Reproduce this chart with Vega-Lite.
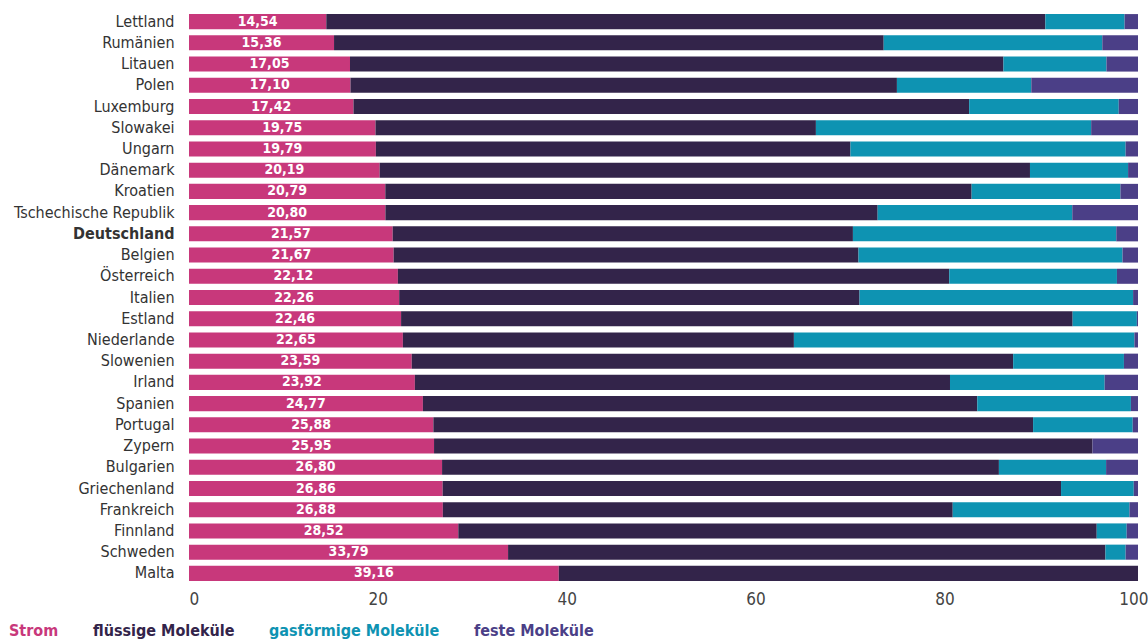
{
  "$schema": "https://vega.github.io/schema/vega-lite/v6.json",
  "width": 949,
  "height": 573,
  "autosize": {"type": "none"},
  "padding": {"left": 189, "top": 11, "right": 10, "bottom": 55},
  "background": "#ffffff",
  "config": {
    "locale": {"number": {"decimal": ",", "thousands": ".", "grouping": [3], "currency": ["", " €"]}},
    "view": {"stroke": null},
    "font": "'DejaVu Sans Condensed', Roboto, sans-serif"
  },
  "datasets": {
    "typen": [
      {"typ": "Strom", "rang": 1},
      {"typ": "flüssige Moleküle", "rang": 2},
      {"typ": "gasförmige Moleküle", "rang": 3},
      {"typ": "feste Moleküle", "rang": 4}
    ]
  },
  "data": {
    "values": [
      {"land": "Lettland", "Strom": 14.54, "flüssige Moleküle": 76.15, "gasförmige Moleküle": 8.39, "feste Moleküle": 1.42},
      {"land": "Rumänien", "Strom": 15.36, "flüssige Moleküle": 58.21, "gasförmige Moleküle": 23.15, "feste Moleküle": 3.78},
      {"land": "Litauen", "Strom": 17.05, "flüssige Moleküle": 69.20, "gasförmige Moleküle": 10.91, "feste Moleküle": 3.34},
      {"land": "Polen", "Strom": 17.10, "flüssige Moleküle": 57.87, "gasförmige Moleküle": 14.23, "feste Moleküle": 11.30},
      {"land": "Luxemburg", "Strom": 17.42, "flüssige Moleküle": 65.20, "gasförmige Moleküle": 15.84, "feste Moleküle": 2.04},
      {"land": "Slowakei", "Strom": 19.75, "flüssige Moleküle": 46.64, "gasförmige Moleküle": 29.15, "feste Moleküle": 4.96},
      {"land": "Ungarn", "Strom": 19.79, "flüssige Moleküle": 50.26, "gasförmige Moleküle": 29.14, "feste Moleküle": 1.31},
      {"land": "Dänemark", "Strom": 20.19, "flüssige Moleküle": 68.87, "gasförmige Moleküle": 10.39, "feste Moleküle": 1.05},
      {"land": "Kroatien", "Strom": 20.79, "flüssige Moleküle": 62.09, "gasförmige Moleküle": 15.76, "feste Moleküle": 1.86},
      {"land": "Tschechische Republik", "Strom": 20.80, "flüssige Moleküle": 52.13, "gasförmige Moleküle": 20.61, "feste Moleküle": 6.96},
      {"land": "Deutschland", "Strom": 21.57, "flüssige Moleküle": 48.74, "gasförmige Moleküle": 27.89, "feste Moleküle": 2.30},
      {"land": "Belgien", "Strom": 21.67, "flüssige Moleküle": 49.23, "gasförmige Moleküle": 27.96, "feste Moleküle": 1.64},
      {"land": "Österreich", "Strom": 22.12, "flüssige Moleküle": 58.39, "gasförmige Moleküle": 17.76, "feste Moleküle": 2.23},
      {"land": "Italien", "Strom": 22.26, "flüssige Moleküle": 48.75, "gasförmige Moleküle": 28.97, "feste Moleküle": 0.52},
      {"land": "Estland", "Strom": 22.46, "flüssige Moleküle": 71.12, "gasförmige Moleküle": 6.80, "feste Moleküle": 0.12},
      {"land": "Niederlande", "Strom": 22.65, "flüssige Moleküle": 41.41, "gasförmige Moleküle": 36.06, "feste Moleküle": 0.38},
      {"land": "Slowenien", "Strom": 23.59, "flüssige Moleküle": 63.69, "gasförmige Moleküle": 11.73, "feste Moleküle": 1.49},
      {"land": "Irland", "Strom": 23.92, "flüssige Moleküle": 56.67, "gasförmige Moleküle": 16.38, "feste Moleküle": 3.53},
      {"land": "Spanien", "Strom": 24.77, "flüssige Moleküle": 58.71, "gasförmige Moleküle": 16.27, "feste Moleküle": 0.75},
      {"land": "Portugal", "Strom": 25.88, "flüssige Moleküle": 63.51, "gasförmige Moleküle": 10.55, "feste Moleküle": 0.56},
      {"land": "Zypern", "Strom": 25.95, "flüssige Moleküle": 69.73, "gasförmige Moleküle": 0, "feste Moleküle": 4.82},
      {"land": "Bulgarien", "Strom": 26.80, "flüssige Moleküle": 58.97, "gasförmige Moleküle": 11.35, "feste Moleküle": 3.38},
      {"land": "Griechenland", "Strom": 26.86, "flüssige Moleküle": 65.49, "gasförmige Moleküle": 7.70, "feste Moleküle": 0.45},
      {"land": "Frankreich", "Strom": 26.88, "flüssige Moleküle": 54.00, "gasförmige Moleküle": 18.72, "feste Moleküle": 0.90},
      {"land": "Finnland", "Strom": 28.52, "flüssige Moleküle": 67.61, "gasförmige Moleküle": 3.17, "feste Moleküle": 1.20},
      {"land": "Schweden", "Strom": 33.79, "flüssige Moleküle": 63.26, "gasförmige Moleküle": 2.14, "feste Moleküle": 1.31},
      {"land": "Malta", "Strom": 39.16, "flüssige Moleküle": 61.34, "gasförmige Moleküle": 0, "feste Moleküle": 0}
    ]
  },
  "transform": [
    {"fold": ["Strom", "flüssige Moleküle", "gasförmige Moleküle", "feste Moleküle"], "as": ["typ", "anteil"]},
    {"lookup": "typ", "from": {"data": {"name": "typen"}, "key": "typ", "fields": ["rang"]}}
  ],
  "encoding": {
    "y": {
      "field": "land",
      "type": "nominal",
      "sort": null,
      "scale": {"paddingInner": 0.29, "paddingOuter": 0.145},
      "axis": {
        "title": null,
        "domain": false,
        "ticks": false,
        "labelPadding": 15,
        "labelFontSize": 16,
        "labelColor": "#333333",
        "labelLimit": 300,
        "labelFontWeight": {"condition": {"test": "datum.value === 'Deutschland'", "value": "bold"}, "value": "normal"}
      }
    }
  },
  "layer": [
    {
      "mark": {"type": "bar"},
      "encoding": {
        "x": {
          "field": "anteil",
          "type": "quantitative",
          "stack": "zero",
          "scale": {"domain": [0, 100.5], "nice": false},
          "axis": {
            "title": null,
            "values": [0, 20, 40, 60, 80, 100],
            "format": "d",
            "domain": false,
            "ticks": false,
            "grid": false,
            "labelPadding": 7,
            "labelFontSize": 17,
            "labelColor": "#444444"
          }
        },
        "color": {
          "field": "typ",
          "type": "nominal",
          "scale": {
            "domain": ["Strom", "flüssige Moleküle", "gasförmige Moleküle", "feste Moleküle"],
            "range": ["#C8387B", "#33244A", "#0E93B2", "#4B3F87"]
          },
          "legend": {
            "orient": "none",
            "legendX": -196,
            "legendY": 612,
            "direction": "horizontal",
            "title": null,
            "symbolSize": 0,
            "symbolStrokeWidth": 0,
            "symbolOpacity": 0,
            "labelOffset": 0,
            "labelFontSize": 16,
            "labelFontWeight": "bold",
            "labelLimit": 300,
            "columnPadding": 18,
            "encode": {"labels": {"update": {"fill": {"scale": "color", "field": "value"}}}}
          }
        },
        "order": {"field": "rang", "type": "quantitative"}
      }
    },
    {
      "transform": [{"filter": "datum.typ === 'Strom'"}],
      "mark": {"type": "text", "color": "#ffffff", "fontWeight": "bold", "fontSize": 14, "align": "center", "baseline": "middle"},
      "encoding": {
        "x": {"field": "anteil", "type": "quantitative", "stack": "zero", "bandPosition": 0.5},
        "text": {"field": "anteil", "type": "quantitative", "format": ".2f"}
      }
    }
  ]
}
